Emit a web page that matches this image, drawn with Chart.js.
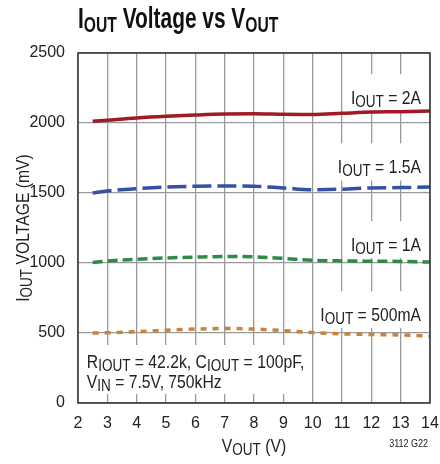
<!DOCTYPE html>
<html><head><meta charset="utf-8">
<script src="https://cdn.jsdelivr.net/npm/chart.js@4.4.1/dist/chart.umd.min.js"></script>
<style>html,body{margin:0;padding:0;background:#fff}canvas{display:block}</style>
</head><body>
<canvas id="c" width="440" height="464"></canvas>
<script>
// ---- data ----
const vout   = [2.5, 3, 4, 5, 6, 7, 8, 9, 10, 11, 12, 13, 14];
const iout2A   = [2012, 2020, 2036, 2048, 2057, 2064, 2066, 2062, 2060, 2069, 2078, 2081, 2086];
const iout1p5A = [1500, 1514, 1531, 1543, 1548, 1550, 1548, 1536, 1524, 1527, 1536, 1539, 1542];
const iout1A   = [1004, 1014, 1027, 1036, 1042, 1046, 1044, 1033, 1020, 1015, 1013, 1011, 1007];
const iout500mA= [500, 502, 509, 520, 528, 532, 528, 517, 503, 494, 489, 486, 477];
const xTicks = [2,3,4,5,6,7,8,9,10,11,12,13,14];
const yTicks = [0,500,1000,1500,2000,2500];

const FF = "'Liberation Sans','Arimo',Arial,sans-serif";
const HS = 0.85; // horizontal condensing of drawn text

function pts(ys){ return vout.map((x,i)=>({x:x,y:ys[i]})); }

function richWidth(ctx, parts, size, bold, sub, hs){
  let w=0;
  parts.forEach(p=>{ctx.font=(bold?'bold ':'')+(p[1]?size*sub:size)+'px '+FF; w+=ctx.measureText(p[0]).width;});
  return w*hs;
}
function drawRich(ctx, parts, x, y, size, align, opts){
  opts = opts||{};
  const bold = !!opts.bold, sub = opts.sub||0.86, hs = opts.hs||HS, drop = opts.drop||0.15;
  const total = richWidth(ctx, parts, size, bold, sub, hs);
  const left = align==='right' ? x-total : align==='center' ? x-total/2 : x;
  ctx.save();
  ctx.translate(left, y);
  ctx.scale(hs, 1);
  ctx.textAlign='left'; ctx.textBaseline='alphabetic';
  let sx = 0;
  parts.forEach(p=>{
    const s = p[1]?size*sub:size;
    ctx.font=(bold?'bold ':'')+s+'px '+FF;
    ctx.fillText(p[0], sx, p[1]? size*drop : 0);
    sx += ctx.measureText(p[0]).width;
  });
  ctx.restore();
  return {left:left, right:left+total};
}

const labels = [
  {parts:[['I',0],['OUT',1],[' = 2A',0]], x:14, y:2135},
  {parts:[['I',0],['OUT',1],[' = 1.5A',0]], x:14, y:1640},
  {parts:[['I',0],['OUT',1],[' = 1A',0]], x:14, y:1085},
  {parts:[['I',0],['OUT',1],[' = 500mA',0]], x:14, y:585}
];

const textPlugin = {
  id:'textPlugin',
  beforeDatasetsDraw(chart){
    const ctx = chart.ctx, xs = chart.scales.x, ys = chart.scales.y;
    ctx.save();
    const fs = 18.5;
    labels.forEach(l=>{
      const px = xs.getPixelForValue(l.x)-9, py = ys.getPixelForValue(l.y);
      const w = richWidth(ctx, l.parts, fs, false, 0.86, HS);
      ctx.fillStyle='#fff';
      ctx.fillRect(px-w-5, py-30, w+9, 37);
      ctx.fillStyle='#222';
      drawRich(ctx, l.parts, px, py, fs, 'right');
    });
    // annotation
    const ax = xs.getPixelForValue(2.3);
    const a1 = ys.getPixelForValue(250), a2 = ys.getPixelForValue(107);
    const p1 = [['R',0],['IOUT',1],[' = 42.2k, C',0],['IOUT',1],[' = 100pF,',0]];
    const p2 = [['V',0],['IN',1],[' = 7.5V, 750kHz',0]];
    const w1 = richWidth(ctx,p1,fs,false,0.86,HS);
    ctx.fillStyle='#fff';
    ctx.fillRect(ax-4, a1-23, w1+6, a2-a1+29);
    ctx.fillStyle='#222';
    drawRich(ctx,p1,ax,a1,fs,'left');
    drawRich(ctx,p2,ax,a2,fs,'left');
    ctx.restore();
  },
  afterDraw(chart){
    const ctx = chart.ctx, ca = chart.chartArea;
    ctx.save();
    ctx.strokeStyle='#333'; ctx.lineWidth=1.5;
    ctx.strokeRect(ca.left, ca.top, ca.right-ca.left, ca.bottom-ca.top);
    ctx.fillStyle='#111';
    // title
    drawRich(ctx, [['I',0],['OUT',1],[' Voltage vs V',0],['OUT',1]], 78, 28, 29, 'left', {bold:true, hs:0.72, sub:0.75, drop:0.13});
    ctx.fillStyle='#222';
    // x title
    drawRich(ctx, [['V',0],['OUT',1],[' (V)',0]], (ca.left+ca.right)/2, 452, 18.5, 'center');
    // y title
    ctx.save();
    ctx.translate(29, (ca.top+ca.bottom)/2);
    ctx.rotate(-Math.PI/2);
    drawRich(ctx, [['I',0],['OUT',1],[' VOLTAGE (mV)',0]], 0, 0, 18.5, 'center');
    ctx.restore();
    ctx.font='10px '+FF; ctx.textAlign='right'; ctx.textBaseline='alphabetic';
    ctx.save(); ctx.translate(428,447); ctx.scale(0.9,1); ctx.fillText('3112 G22', 0, 0); ctx.restore();
    ctx.restore();
  }
};

const common = {pointRadius:0, borderWidth:3.5, fill:false, tension:0.4, cubicInterpolationMode:'monotone', borderCapStyle:'butt'};

new Chart(document.getElementById('c'), {
  type:'line',
  data:{datasets:[
    Object.assign({label:'2A', data:pts(iout2A), borderColor:'#a01c22'}, common),
    Object.assign({label:'1.5A', data:pts(iout1p5A), borderColor:'#3451a6', borderDash:[19,6]}, common),
    Object.assign({label:'1A', data:pts(iout1A), borderColor:'#2f8a47', borderDash:[10,5]}, common),
    Object.assign({label:'500mA', data:pts(iout500mA), borderColor:'#c8813e', borderDash:[6,6]}, common)
  ]},
  options:{
    responsive:false, animation:false,
    layout:{padding:{top:53, right:0, left:0, bottom:0}},
    plugins:{legend:{display:false}, tooltip:{enabled:false}, title:{display:false}},
    scales:{
      x:{type:'linear', min:2, max:14,
        afterBuildTicks(s){ s.ticks = xTicks.map(v=>({value:v})); },
        afterFit(s){ s.height = 61; s.paddingRight = 10; s.paddingLeft = 0; },
        grid:{color:'#9a9a9a', lineWidth:1.3, drawTicks:false},
        border:{display:false},
        ticks:{color:'#222', font:{size:16, family:FF}, padding:11, maxRotation:0, autoSkip:false, callback:v=>String(v)}},
      y:{min:0, max:2500,
        afterBuildTicks(s){ s.ticks = yTicks.map(v=>({value:v})); },
        afterFit(s){ s.width = 78; s.paddingTop = 0; s.paddingBottom = 0; },
        grid:{color:'#9a9a9a', lineWidth:1.3, drawTicks:false},
        border:{display:false},
        ticks:{color:'#222', font:{size:16, family:FF}, padding:13, callback:v=>String(v)}}
    }
  },
  plugins:[textPlugin]
});
</script>
</body></html>
